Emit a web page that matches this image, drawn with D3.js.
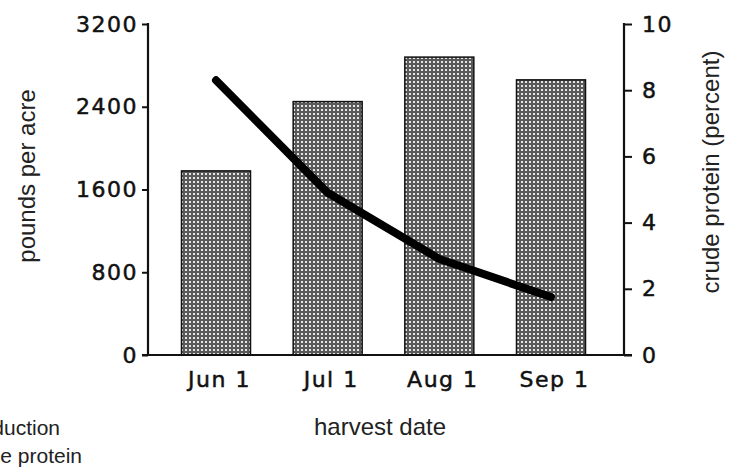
<!DOCTYPE html>
<html>
<head>
<meta charset="utf-8">
<script src="https://cdn.jsdelivr.net/npm/d3@7"></script>
<style>
  html, body { margin: 0; padding: 0; background: #fff; }
  svg { display: block; }
  .tick-lbl { font-family: "DejaVu Sans", sans-serif; font-size: 22px; letter-spacing: 1.5px; fill: #111; stroke: #111; stroke-width: 0.5px; }
  .title { font-family: "Liberation Sans", Arial, sans-serif; font-size: 24px; fill: #222; }
  .leg { font-family: "Liberation Sans", Arial, sans-serif; font-size: 21px; fill: #222; }
</style>
</head>
<body>
<div id="chart"></div>
<script>
// harvest date vs yield (bars) and crude protein (line)
const months = ["Jun 1", "Jul 1", "Aug 1", "Sep 1"];
const yieldLbs = [1780, 2450, 2880, 2660];
const protein = [8.3, 4.9, 2.9, 1.75];
const leftTicks = [0, 800, 1600, 2400, 3200];
const rightTicks = [0, 2, 4, 6, 8, 10];
const legendLabels = ["production", "crude protein"];

const W = 731, H = 473;
const L = 148, R = 624, T = 24, B = 355;

const svg = d3.select("#chart").append("svg").attr("width", W).attr("height", H);

// dithered grey fill for the bars
const pat = svg.append("defs").append("pattern")
  .attr("id", "dither").attr("patternUnits", "userSpaceOnUse")
  .attr("width", 4).attr("height", 4);
pat.append("rect").attr("width", 4).attr("height", 4).attr("fill", "#5a5a5a");
pat.append("rect").attr("x", 1).attr("y", 1).attr("width", 2).attr("height", 2).attr("fill", "#e6e6e6");

const x = d3.scalePoint().domain(months).range([L + 68, R - 73]);
const yL = d3.scaleLinear().domain([0, 3200]).range([B, T]);
const yR = d3.scaleLinear().domain([0, 10]).range([B, T]);
const barW = 69;

// bars
svg.selectAll(".bar").data(months).enter().append("rect")
  .attr("class", "bar")
  .attr("x", d => x(d) - barW / 2)
  .attr("y", (d, i) => yL(yieldLbs[i]))
  .attr("width", barW)
  .attr("height", (d, i) => B - yL(yieldLbs[i]))
  .attr("fill", "url(#dither)")
  .attr("stroke", "#111").attr("stroke-width", 1.5);

// axes
const axL = svg.append("g").attr("transform", `translate(${L},0)`)
  .call(d3.axisLeft(yL).tickValues(leftTicks).tickSize(6).tickPadding(4).tickFormat(d3.format("d")));
const axR = svg.append("g").attr("transform", `translate(${R},0)`)
  .call(d3.axisRight(yR).tickValues(rightTicks).tickSize(8).tickPadding(10).tickFormat(d3.format("d")));
const axB = svg.append("g").attr("transform", `translate(0,${B})`)
  .call(d3.axisBottom(x).tickSize(0).tickPadding(16));

[axL, axR, axB].forEach(a => {
  a.select(".domain").remove();
  a.selectAll("line").attr("stroke", "#111").attr("stroke-width", 2);
  a.selectAll("text").attr("class", "tick-lbl").attr("font-size", null).attr("font-family", null);
});
axB.selectAll("text").attr("dx", 3);

// frame lines: left, right, baseline
svg.append("line").attr("x1", L).attr("x2", L).attr("y1", yL(3200) - 1).attr("y2", B + 1)
  .attr("stroke", "#111").attr("stroke-width", 2.2);
svg.append("line").attr("x1", R).attr("x2", R).attr("y1", yR(10) - 1).attr("y2", B + 1)
  .attr("stroke", "#111").attr("stroke-width", 2.2);
svg.append("line").attr("x1", L - 6).attr("x2", R + 8).attr("y1", B).attr("y2", B)
  .attr("stroke", "#111").attr("stroke-width", 2.2);

// protein line
const line = d3.line().x((d, i) => x(months[i])).y(d => yR(d));
svg.append("path").datum(protein)
  .attr("d", line)
  .attr("fill", "none").attr("stroke", "#000").attr("stroke-width", 8)
  .attr("stroke-linecap", "round").attr("stroke-linejoin", "round");

// axis titles
svg.append("text").attr("class", "title")
  .attr("transform", "translate(35,176) rotate(-90)")
  .attr("text-anchor", "middle").text("pounds per acre");
svg.append("text").attr("class", "title")
  .attr("transform", "translate(719,172) rotate(-90)")
  .attr("text-anchor", "middle").text("crude protein (percent)");
svg.append("text").attr("class", "title")
  .attr("x", 380).attr("y", 435).attr("text-anchor", "middle").text("harvest date");

// legend (runs off the left edge)
svg.selectAll(".leg").data(legendLabels).enter().append("text")
  .attr("class", "leg")
  .attr("x", (d, i) => [60, 82][i])
  .attr("y", (d, i) => 435 + i * 28)
  .attr("text-anchor", "end").text(d => d);
</script>
</body>
</html>
